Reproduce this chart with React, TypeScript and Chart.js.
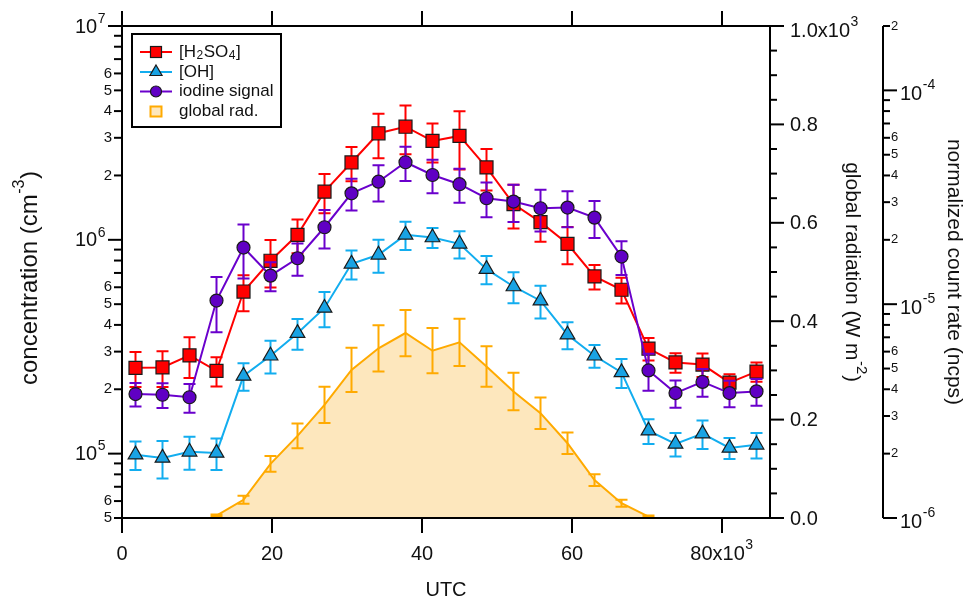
import React, { useEffect, useRef } from "react";
import { Chart, registerables } from "chart.js";

Chart.register(...registerables);

const FONT = '"Liberation Sans", Arial, Helvetica, sans-serif';
Chart.defaults.font.family = FONT;

// ---------- data ----------
const utcSeconds = [1800, 5400, 9000, 12600, 16200, 19800, 23400, 27000, 30600, 34200, 37800, 41400, 45000, 48600, 52200, 55800, 59400, 63000, 66600, 70200, 73800, 77400, 81000, 84600];

const h2so4 = [2.52e5, 2.53e5, 2.88e5, 2.44e5, 5.73e5, 7.98e5, 1.055e6, 1.68e6, 2.3e6, 3.15e6, 3.38e6, 2.9e6, 3.06e6, 2.18e6, 1.47e6, 1.21e6, 9.58e5, 6.74e5, 5.84e5, 3.1e5, 2.67e5, 2.61e5, 2.15e5, 2.42e5];
const h2so4Err = [4.7e4, 4.8e4, 6.2e4, 3.8e4, 1.1e5, 2.0e5, 1.9e5, 3.5e5, 4.2e5, 7.4e5, 8.7e5, 6.0e5, 9.3e5, 4.8e5, 3.4e5, 2.3e5, 1.9e5, 8.8e4, 8.0e4, 3.7e4, 2.8e4, 3.3e4, 2.0e4, 2.5e4];

const oh = [9.89e4, 9.55e4, 1.02e5, 1.008e5, 2.31e5, 2.87e5, 3.66e5, 4.8e5, 7.72e5, 8.51e5, 1.055e6, 1.025e6, 9.58e5, 7.29e5, 6.05e5, 5.19e5, 3.6e5, 2.87e5, 2.4e5, 1.28e5, 1.11e5, 1.24e5, 1.063e5, 1.1e5];
const ohErr = [1.5e4, 1.9e4, 1.8e4, 1.7e4, 3.4e4, 5.0e4, 6.0e4, 9.0e4, 1.2e5, 1.5e5, 1.6e5, 1.1e5, 1.4e5, 1.1e5, 1.0e5, 9.0e4, 5.2e4, 3.5e4, 3.7e4, 1.7e4, 1.4e4, 1.9e4, 1.2e4, 1.5e4];

const iodine = [3.8e-6, 3.77e-6, 3.67e-6, 1.04e-5, 1.84e-5, 1.36e-5, 1.64e-5, 2.29e-5, 3.3e-5, 3.74e-5, 4.61e-5, 4.02e-5, 3.64e-5, 3.13e-5, 3.02e-5, 2.81e-5, 2.83e-5, 2.54e-5, 1.67e-5, 4.9e-6, 3.84e-6, 4.33e-6, 3.84e-6, 3.91e-6];
const iodineErr = [4.8e-7, 5.0e-7, 5.6e-7, 3.0e-6, 5.2e-6, 2.1e-6, 2.8e-6, 4.7e-6, 5.6e-6, 7.2e-6, 8.4e-6, 7.2e-6, 6.6e-6, 5.8e-6, 6.0e-6, 6.2e-6, 5.4e-6, 5.0e-6, 3.0e-6, 9.6e-7, 5.6e-7, 6.4e-7, 5.4e-7, 5.6e-7];

const globalRad = [null, null, null, 5, 37, 110, 167, 230, 301, 345, 376, 340, 357, 308, 257, 213, 152, 77, 30, 3, null, null, null, null];
const globalRadErr = [null, null, null, 2, 8, 16, 25, 37, 45, 47, 47, 46, 48, 41, 38, 32, 22, 12, 7, 2, null, null, null, null];

// ---------- ticks / text ----------
const xTickValues = [0, 20000, 40000, 60000, 80000];
const xTickLabels = ["0", "20", "40", "60", "80x10^{3}"];
const concMajorValues = [1e5, 1e6, 1e7];
const concMajorLabels = ["10^{5}", "10^{6}", "10^{7}"];
const radTickValues = [0, 200, 400, 600, 800, 1000];
const radTickLabels = ["0.0", "0.2", "0.4", "0.6", "0.8", "1.0x10^{3}"];
const ncpsMajorValues = [1e-6, 1e-5, 1e-4];
const ncpsMajorLabels = ["10^{-6}", "10^{-5}", "10^{-4}"];

const xTitle = "UTC";
const concTitle = "concentration (cm^{-3})";
const radTitle = "global radiation (W m^{-2})";
const ncpsTitle = "normalized count rate (ncps)";

const legendLabels = ["[H_{2}SO_{4}]", "[OH]", "iodine signal", "global rad."];

// ---------- styles ----------
const RED = "#FF0000";
const BLUE = "#12ADEF";
const BLUE_FILL = "#19A3E4";
const PURPLE = "#6A00CC";
const PURPLE_FILL = "#6000C4";
const ORANGE = "#FFAA00";
const ORANGE_FILL = "#FDE7BD";
const MARKER_EDGE = "#1a1a1a";
const TEXT = "#111";

type Seg = { t: string; m: number };
function parseRich(s: string): Seg[] {
  const out: Seg[] = [];
  let buf = "";
  let i = 0;
  while (i < s.length) {
    const c = s[i];
    if ((c === "^" || c === "_") && s[i + 1] === "{") {
      if (buf) { out.push({ t: buf, m: 0 }); buf = ""; }
      const j = s.indexOf("}", i + 2);
      out.push({ t: s.slice(i + 2, j), m: c === "^" ? 1 : -1 });
      i = j + 1;
    } else {
      buf += c;
      i++;
    }
  }
  if (buf) out.push({ t: buf, m: 0 });
  return out;
}

function drawRich(
  ctx: CanvasRenderingContext2D,
  text: string,
  x: number,
  y: number,
  size: number,
  align: "left" | "right" | "center",
  small: number,
  raise: number,
  drop: number
) {
  const segs = parseRich(text);
  let w = 0;
  const widths: number[] = [];
  for (const s of segs) {
    ctx.font = `${s.m === 0 ? size : small}px ${FONT}`;
    const sw = ctx.measureText(s.t).width + (s.m !== 0 ? 1 : 0);
    widths.push(sw);
    w += sw;
  }
  let cx = align === "left" ? x : align === "right" ? x - w : x - w / 2;
  ctx.textAlign = "left";
  ctx.textBaseline = "middle";
  segs.forEach((s, k) => {
    ctx.font = `${s.m === 0 ? size : small}px ${FONT}`;
    const dy = s.m === 1 ? -raise : s.m === -1 ? drop : 0;
    ctx.fillText(s.t, cx + (s.m !== 0 ? 0.5 : 0), y + dy);
    cx += widths[k];
  });
}

function line(ctx: CanvasRenderingContext2D, x1: number, y1: number, x2: number, y2: number) {
  ctx.beginPath();
  ctx.moveTo(x1, y1);
  ctx.lineTo(x2, y2);
  ctx.stroke();
}

const errorBarPlugin = {
  id: "errorBars",
  beforeDatasetDraw(chart: any, args: any) {
    const ds = chart.data.datasets[args.index];
    const errs = ds.errors;
    if (!errs) return;
    const ys = chart.scales[ds.yAxisID];
    const ctx = chart.ctx as CanvasRenderingContext2D;
    ctx.save();
    ctx.strokeStyle = ds.errorColor;
    ctx.lineWidth = 2;
    args.meta.data.forEach((pt: any, i: number) => {
      const v = ds.data[i].y;
      const e = errs[i];
      if (v == null || e == null) return;
      const x = pt.x;
      const yt = ys.getPixelForValue(v + e);
      const yb = ys.getPixelForValue(v - e);
      ctx.beginPath();
      ctx.moveTo(x, yt); ctx.lineTo(x, yb);
      ctx.moveTo(x - 6, yt); ctx.lineTo(x + 6, yt);
      ctx.moveTo(x - 6, yb); ctx.lineTo(x + 6, yb);
      ctx.stroke();
    });
    ctx.restore();
  },
};

const axesPlugin = {
  id: "customAxes",
  afterDraw(chart: any) {
    const ctx = chart.ctx as CanvasRenderingContext2D;
    const { left, right, top, bottom } = chart.chartArea;
    const xs = chart.scales.x;
    const yc = chart.scales.yConc;
    const yr = chart.scales.yRad;
    const yn = chart.scales.yNcps;
    ctx.save();
    ctx.strokeStyle = "#000";
    ctx.fillStyle = TEXT;
    ctx.lineWidth = 2;
    ctx.strokeRect(left, top, right - left, bottom - top);

    // x axis (bottom + mirrored top)
    xTickValues.forEach((v, i) => {
      const x = xs.getPixelForValue(v);
      line(ctx, x, bottom, x, bottom + 15);
      line(ctx, x, top, x, top - 15);
      drawRich(ctx, xTickLabels[i], x, bottom + 36, 20, "center", 14, 9, 4);
    });
    drawRich(ctx, xTitle, (left + right) / 2, 590, 20, "center", 14, 9, 4);

    // left log axis
    for (let d = 4; d <= 6; d++) {
      for (let m = 1; m <= 9; m++) {
        const v = m * Math.pow(10, d);
        if (v < 5e4 - 1 || v > 1e7 + 1) continue;
        const y = yc.getPixelForValue(v);
        if (m === 1) {
          line(ctx, left - 14, y, left, y);
        } else {
          line(ctx, left - 8, y, left, y);
          if (m <= 6) drawRich(ctx, String(m), left - 10, y, 15, "right", 11, 6, 3);
        }
      }
    }
    line(ctx, left - 14, yc.getPixelForValue(1e7), left, yc.getPixelForValue(1e7));
    concMajorValues.forEach((v, i) => {
      const y = yc.getPixelForValue(v);
      drawRich(ctx, concMajorLabels[i], left - 16, y + 1, 20, "right", 14, 8, 4);
    });
    ctx.save();
    ctx.translate(30, (top + bottom) / 2 + 6);
    ctx.rotate(-Math.PI / 2);
    drawRich(ctx, concTitle, 0, 0, 24, "center", 16, 10, 4);
    ctx.restore();

    // radiation axis (right of plot)
    for (let v = 0; v <= 1000; v += 50) {
      const y = yr.getPixelForValue(v);
      line(ctx, right, y, right + (v % 200 === 0 ? 14 : 7), y);
    }
    radTickValues.forEach((v, i) => {
      const y = yr.getPixelForValue(v);
      drawRich(ctx, radTickLabels[i], right + 20, Math.max(y + 1, top + 5), 20, "left", 14, 9, 4);
    });
    ctx.save();
    ctx.translate(852, (top + bottom) / 2);
    ctx.rotate(Math.PI / 2);
    drawRich(ctx, radTitle, 0, 0, 21, "center", 15, 9, 4);
    ctx.restore();

    // ncps axis
    const nx = 883;
    line(ctx, nx, yn.getPixelForValue(2e-4), nx, yn.getPixelForValue(1e-6));
    for (let d = -6; d <= -4; d++) {
      for (let m = 1; m <= 9; m++) {
        const v = m * Math.pow(10, d);
        if (v > 2.0001e-4) continue;
        const y = yn.getPixelForValue(v);
        if (m === 1) {
          line(ctx, nx, y, nx + 14, y);
        } else {
          line(ctx, nx, y, nx + 7, y);
          if (m <= 6) drawRich(ctx, String(m), nx + 8, y, 13, "left", 10, 5, 3);
        }
      }
    }
    ncpsMajorValues.forEach((v, i) => {
      const y = yn.getPixelForValue(v);
      drawRich(ctx, ncpsMajorLabels[i], nx + 17, y + 4, 20, "left", 14, 9, 4);
    });
    ctx.save();
    ctx.translate(954, (top + bottom) / 2);
    ctx.rotate(Math.PI / 2);
    drawRich(ctx, ncpsTitle, 0, 0, 21, "center", 15, 9, 4);
    ctx.restore();

    ctx.restore();
  },
};

const legendPlugin = {
  id: "customLegend",
  afterDraw(chart: any) {
    const ctx = chart.ctx as CanvasRenderingContext2D;
    ctx.save();
    ctx.fillStyle = "#fff";
    ctx.fillRect(132, 34, 149, 93);
    ctx.strokeStyle = "#000";
    ctx.lineWidth = 2;
    ctx.strokeRect(132, 34, 149, 93);
    const rows = [52, 72, 91.5, 111.5];
    const lineColors = [RED, BLUE, PURPLE];
    const mx = 156;
    rows.forEach((y, i) => {
      if (i < 3) {
        ctx.strokeStyle = lineColors[i];
        ctx.lineWidth = 2;
        line(ctx, 140, y, 172, y);
      }
      ctx.strokeStyle = MARKER_EDGE;
      ctx.lineWidth = 1.2;
      if (i === 0) {
        ctx.fillStyle = RED;
        ctx.fillRect(mx - 5.5, y - 5.5, 11, 11);
        ctx.strokeRect(mx - 5.5, y - 5.5, 11, 11);
      } else if (i === 1) {
        const r = 7;
        ctx.fillStyle = BLUE_FILL;
        ctx.beginPath();
        ctx.moveTo(mx, y - r);
        ctx.lineTo(mx + 0.866 * r, y + 0.5 * r);
        ctx.lineTo(mx - 0.866 * r, y + 0.5 * r);
        ctx.closePath();
        ctx.fill();
        ctx.stroke();
      } else if (i === 2) {
        ctx.fillStyle = PURPLE_FILL;
        ctx.beginPath();
        ctx.arc(mx, y, 5.5, 0, Math.PI * 2);
        ctx.fill();
        ctx.stroke();
      } else {
        ctx.fillStyle = ORANGE_FILL;
        ctx.fillRect(mx - 5.5, y - 5, 11, 10);
        ctx.strokeStyle = ORANGE;
        ctx.lineWidth = 2;
        ctx.strokeRect(mx - 5.5, y - 5, 11, 10);
      }
      ctx.fillStyle = TEXT;
      drawRich(ctx, legendLabels[i], 179, y, 17, "left", 12, 7, 4);
    });
    ctx.restore();
  },
};

function pts(vals: (number | null)[]) {
  return utcSeconds.map((x, i) => ({ x, y: vals[i] }));
}

export default function App() {
  const canvasRef = useRef<HTMLCanvasElement | null>(null);

  useEffect(() => {
    document.body.style.margin = "0";
    const canvas = canvasRef.current;
    if (!canvas) return;
    const chart = new Chart(canvas, {
      type: "line",
      data: {
        datasets: [
          {
            label: "iodine signal",
            data: pts(iodine),
            yAxisID: "yNcps",
            borderColor: PURPLE,
            backgroundColor: PURPLE_FILL,
            pointBackgroundColor: PURPLE_FILL,
            pointBorderColor: MARKER_EDGE,
            pointBorderWidth: 1.2,
            pointRadius: 6.5,
            pointStyle: "circle",
            borderWidth: 2,
            fill: false,
            order: 1,
            errors: iodineErr,
            errorColor: PURPLE,
          } as any,
          {
            label: "[H2SO4]",
            data: pts(h2so4),
            yAxisID: "yConc",
            borderColor: RED,
            backgroundColor: RED,
            pointBackgroundColor: RED,
            pointBorderColor: MARKER_EDGE,
            pointBorderWidth: 1.2,
            pointRadius: 9.2,
            pointStyle: "rect",
            borderWidth: 2,
            fill: false,
            order: 2,
            errors: h2so4Err,
            errorColor: RED,
          } as any,
          {
            label: "[OH]",
            data: pts(oh),
            yAxisID: "yConc",
            borderColor: BLUE,
            backgroundColor: BLUE_FILL,
            pointBackgroundColor: BLUE_FILL,
            pointBorderColor: MARKER_EDGE,
            pointBorderWidth: 1.2,
            pointRadius: 8.5,
            pointStyle: "triangle",
            borderWidth: 2,
            fill: false,
            order: 3,
            errors: ohErr,
            errorColor: BLUE,
          } as any,
          {
            label: "global rad.",
            data: pts(globalRad),
            yAxisID: "yRad",
            borderColor: ORANGE,
            backgroundColor: ORANGE_FILL,
            pointRadius: 0,
            borderWidth: 2,
            fill: "start",
            spanGaps: false,
            order: 4,
            errors: globalRadErr,
            errorColor: ORANGE,
          } as any,
        ],
      },
      options: {
        animation: false,
        responsive: false,
        devicePixelRatio: 1,
        events: [],
        layout: { padding: { left: 122, right: 198, top: 26, bottom: 86 } },
        plugins: {
          legend: { display: false },
          tooltip: { enabled: false },
          title: { display: false },
        },
        elements: { line: { tension: 0 } },
        scales: {
          x: { type: "linear", min: 0, max: 86400, display: false },
          yConc: { type: "logarithmic", min: 5e4, max: 1e7, display: false, position: "left" },
          yRad: { type: "linear", min: 0, max: 1000, display: false, position: "right" },
          yNcps: { type: "logarithmic", min: 1e-6, max: 2e-4, display: false, position: "right" },
        },
      } as any,
      plugins: [errorBarPlugin, axesPlugin, legendPlugin],
    });
    return () => chart.destroy();
  }, []);

  return (
    <div style={{ width: 968, height: 604 }}>
      <canvas ref={canvasRef} width={968} height={604} style={{ display: "block" }} />
    </div>
  );
}
